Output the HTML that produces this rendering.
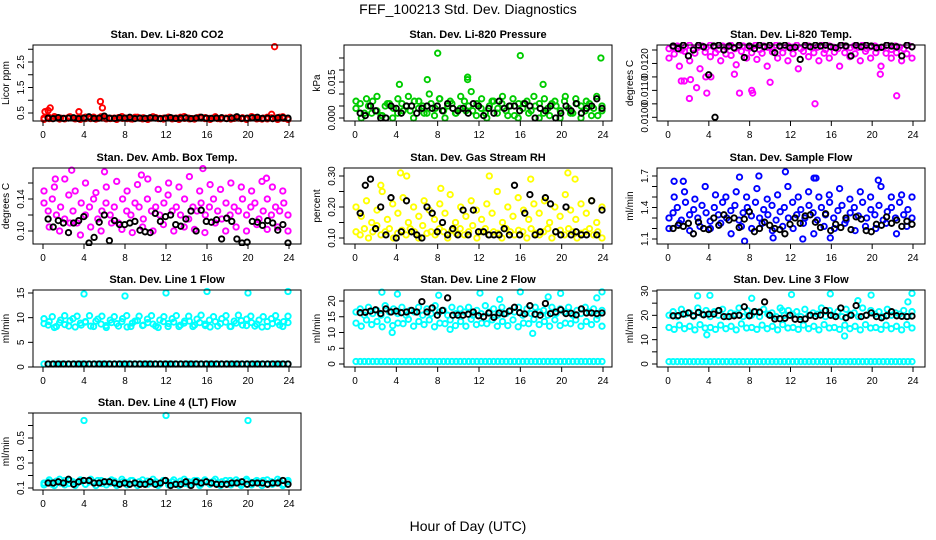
<!DOCTYPE html>
<html><head><meta charset="utf-8"><style>
html,body{margin:0;padding:0;background:#fff;}
svg{display:block;font-family:"Liberation Sans",sans-serif;}
</style></head><body>
<svg id="chart" width="936" height="540" viewBox="0 0 936 540" xmlns="http://www.w3.org/2000/svg">
<text x="468" y="14" font-size="14" text-anchor="middle">FEF_100213  Std. Dev. Diagnostics</text>
<text x="468" y="531" font-size="14" text-anchor="middle">Hour of Day (UTC)</text>
</svg>
<script>
const xTicks=[0,4,8,12,16,20,24];
// Panel 1 CO2
const co2A=[0.3,0.35,0.28,0.32,0.3,0.27,0.33,0.3,0.29,0.31,0.28,0.3,0.34,0.29,0.3,0.31,0.28,0.3,0.32,0.29,0.3,0.27,0.33,0.3,0.31,0.28,0.3,0.32,0.29,0.3,0.31,0.27,0.3,0.33,0.29,0.3,0.28,0.31,0.3,0.32,0.29,0.3,0.28,0.31,0.3,0.33,0.29,0.3,0.31,0.28,0.3,0.32,0.29,0.3,0.27,0.31,0.3,0.33,0.29,0.25];
const co2B=[0.25,0.28,0.36,0.26,0.29,0.35,0.27,0.25,0.34,0.28,0.26,0.35,0.27,0.29,0.25,0.36,0.28,0.26,0.33,0.27,0.25,0.35,0.28,0.26,0.34,0.29,0.25,0.36,0.27,0.26,0.33,0.28,0.25,0.35,0.27,0.29,0.26,0.34,0.28,0.25,0.36,0.27,0.26,0.33,0.28,0.25,0.35,0.27];
const co2OutH=[0.2,0.5,0.7,3.5,5.6,5.8,22.6,22.3];
const co2OutV=[0.55,0.6,0.7,0.55,0.95,0.7,3.1,0.45];
const co2K=[0.3,0.28,0.32,0.29,0.3,0.31,0.28,0.3,0.35,0.29,0.3,0.38,0.3,0.29,0.31,0.3,0.33,0.28,0.3,0.29,0.31,0.3,0.28,0.3,0.32,0.29,0.3,0.31,0.28,0.3,0.33,0.3,0.29,0.3,0.31,0.28,0.3,0.35,0.29,0.3,0.31,0.33,0.29,0.3,0.28,0.31,0.32,0.3];
// Panel 2 Pressure
const prA=[0.004,0.006,0.002,0.005,0.007,0.003,0.001,0.005,0.006,0.004,0.002,0.006,0.005,0.003,0.007,0.004,0.005,0.002,0.006,0.004,0.008,0.003,0.005,0.006,0.002,0.004,0.007,0.005,0.003,0.006,0.004,0.002,0.005,0.007,0.004,0.006,0.003,0.005,0.001,0.006,0.004,0.007,0.003,0.005,0.006,0.002,0.004,0.006,0.005,0.003,0.007,0.004,0.002,0.006,0.005,0.003,0.006,0.004,0.001,0.005];
const prB=[0.007,0.0,0.008,0.002,0.009,0.001,0.006,0.0,0.008,0.003,0.009,0.0,0.007,0.002,0.01,0.001,0.008,0.0,0.007,0.002,0.009,0.003,0.011,0.001,0.008,0.0,0.007,0.002,0.009,0.001,0.008,0.0,0.006,0.002,0.009,0.0,0.008,0.001,0.007,0.0,0.009,0.002,0.008,0.0,0.007,0.001,0.009,0.003];
const prOutH=[8,16,23.8,10.9,10.9,7,4.3,18.2];
const prOutV=[0.027,0.026,0.025,0.017,0.016,0.016,0.014,0.014];
const prK=[0.002,0.001,0.005,0.003,0.0,0.0,0.005,0.004,0.002,0.005,0.005,0.002,0.004,0.005,0.004,0.005,0.003,0.006,0.004,0.003,0.004,0.002,0.006,0.005,0.001,0.004,0.002,0.007,0.004,0.005,0.005,0.003,0.006,0.005,0.0,0.004,0.003,0.005,0.0,0.002,0.005,0.003,0.006,0.002,0.004,0.005,0.008,0.004];
// Panel 3 Li-820 Temp
const tpA=[0.01255,0.0126,0.01265,0.0125,0.01262,0.01268,0.01255,0.0126,0.01265,0.01258,0.01268,0.0126,0.01252,0.01265,0.0126,0.01268,0.01255,0.01262,0.01265,0.01258,0.0126,0.01268,0.01252,0.01265,0.0126,0.01255,0.01268,0.01262,0.01258,0.01265,0.0126,0.01268,0.01255,0.01262,0.01265,0.01258,0.0126,0.01268,0.01252,0.01265,0.0126,0.01255,0.01268,0.01262,0.01258,0.01265,0.0126,0.01268,0.01255,0.01262,0.01265,0.01258,0.0126,0.01268,0.01252,0.01265,0.0126,0.01255,0.01268,0.01262];
const tpB=[0.0122,0.01235,0.0119,0.01245,0.0121,0.01238,0.0118,0.01242,0.01225,0.0124,0.0121,0.01235,0.0123,0.01195,0.01245,0.0122,0.0124,0.01215,0.01238,0.0119,0.01243,0.0122,0.0124,0.0121,0.01236,0.0118,0.01245,0.01225,0.0124,0.0121,0.01238,0.0122,0.01242,0.0119,0.0124,0.01225,0.01236,0.0121,0.01245,0.0122,0.0124,0.0119,0.01238,0.0122,0.0124,0.0121,0.01236,0.0122];
const tpOutH=[1.3,1.6,2.2,2.8,3.7,3.8,4.2,6.5,7,8.2,8.3,10,14.4,20.8,22.4,2.1];
const tpOutV=[0.01135,0.01135,0.0114,0.0111,0.0115,0.0109,0.0115,0.0116,0.0109,0.011,0.0109,0.0113,0.0105,0.0116,0.0108,0.0107];
const tpK=[0.01265,0.01255,0.01268,0.01228,0.0125,0.01268,0.01262,0.01158,0.01265,0.01268,0.0125,0.01265,0.01258,0.01268,0.01222,0.01265,0.01255,0.01268,0.01262,0.01268,0.0124,0.01265,0.01268,0.01258,0.0126,0.01215,0.01268,0.01262,0.01268,0.01265,0.01268,0.01262,0.01258,0.01268,0.01265,0.01228,0.01268,0.01262,0.01268,0.01265,0.01258,0.0126,0.01268,0.01265,0.01262,0.01228,0.01268,0.01262];
const tpOddH=[4.6];
const tpOddV=[0.0100];
// Panel 4 Amb box temp
const abA=[0.135,0.125,0.14,0.12,0.13,0.115,0.145,0.125,0.11,0.135,0.12,0.13,0.14,0.115,0.125,0.135,0.12,0.13,0.11,0.14,0.125,0.12,0.135,0.13,0.115,0.14,0.125,0.13,0.12,0.135,0.145,0.125,0.13,0.12,0.14,0.115,0.13,0.125,0.135,0.12,0.13,0.14,0.125,0.115,0.135,0.12,0.13,0.125,0.14,0.12,0.13,0.135,0.115,0.125,0.14,0.12,0.13,0.125,0.135,0.12];
const abB=[0.15,0.105,0.155,0.1,0.165,0.11,0.15,0.095,0.16,0.105,0.148,0.1,0.155,0.11,0.162,0.102,0.15,0.098,0.158,0.105,0.165,0.1,0.152,0.108,0.16,0.1,0.155,0.105,0.168,0.102,0.15,0.098,0.158,0.11,0.152,0.1,0.16,0.105,0.155,0.1,0.15,0.108,0.162,0.102,0.155,0.105,0.15,0.1];
const abOutH=[2.8,6,15.6,9.6,1.2,21.8];
const abOutV=[0.176,0.174,0.178,0.17,0.165,0.166];
const abK=[0.115,0.105,0.113,0.11,0.098,0.11,0.113,0.118,0.085,0.092,0.111,0.12,0.088,0.113,0.108,0.108,0.11,0.112,0.101,0.099,0.098,0.122,0.112,0.118,0.12,0.108,0.106,0.115,0.125,0.1,0.126,0.112,0.111,0.114,0.09,0.116,0.112,0.09,0.085,0.086,0.112,0.111,0.107,0.113,0.11,0.101,0.108,0.085];
// Panel 5 Gas stream RH
const rhA=[0.12,0.11,0.13,0.1,0.12,0.14,0.11,0.12,0.13,0.1,0.115,0.125,0.11,0.13,0.12,0.1,0.14,0.115,0.12,0.11,0.13,0.12,0.1,0.125,0.115,0.13,0.11,0.12,0.14,0.1,0.12,0.13,0.11,0.12,0.115,0.1,0.13,0.12,0.11,0.125,0.12,0.1,0.13,0.115,0.11,0.12,0.13,0.1,0.12,0.125,0.11,0.13,0.12,0.1,0.115,0.12,0.13,0.11,0.12,0.1];
const rhB=[0.2,0.17,0.22,0.15,0.19,0.25,0.16,0.21,0.18,0.23,0.15,0.2,0.17,0.22,0.19,0.16,0.21,0.18,0.24,0.15,0.2,0.17,0.22,0.19,0.16,0.21,0.18,0.25,0.15,0.2,0.17,0.23,0.19,0.16,0.21,0.18,0.22,0.15,0.2,0.17,0.24,0.19,0.16,0.21,0.18,0.22,0.15,0.2];
const rhOutH=[4.4,5,13,20.6,17,21.3,2.5,8.3];
const rhOutV=[0.31,0.3,0.3,0.31,0.29,0.29,0.27,0.26];
const rhK=[0.18,0.27,0.29,0.13,0.2,0.11,0.23,0.1,0.12,0.22,0.12,0.11,0.1,0.2,0.18,0.12,0.15,0.11,0.13,0.11,0.19,0.11,0.19,0.12,0.12,0.11,0.11,0.11,0.13,0.11,0.27,0.11,0.18,0.24,0.11,0.12,0.23,0.21,0.12,0.11,0.2,0.11,0.12,0.11,0.11,0.22,0.11,0.19];
// Panel 6 Sample flow
const sfA=[1.3,1.35,1.4,1.28,1.45,1.33,1.38,1.3,1.42,1.35,1.27,1.4,1.33,1.45,1.3,1.37,1.42,1.28,1.35,1.4,1.32,1.45,1.3,1.38,1.33,1.42,1.28,1.36,1.4,1.3,1.45,1.33,1.38,1.3,1.42,1.35,1.28,1.4,1.33,1.45,1.3,1.37,1.42,1.28,1.35,1.4,1.32,1.45,1.3,1.38,1.33,1.42,1.28,1.36,1.4,1.3,1.45,1.33,1.38,1.3];
const sfB=[1.2,1.5,1.25,1.55,1.18,1.48,1.22,1.6,1.2,1.52,1.25,1.5,1.15,1.55,1.22,1.5,1.2,1.58,1.25,1.48,1.18,1.52,1.22,1.6,1.2,1.5,1.25,1.55,1.15,1.5,1.22,1.52,1.2,1.58,1.25,1.48,1.18,1.55,1.22,1.5,1.2,1.6,1.25,1.5,1.15,1.52,1.22,1.5];
const sfOutH=[0.6,1.5,7,8.9,11.5,14.5,14.3,20.6,7.5,13.2,15.9,10.3];
const sfOutV=[1.65,1.65,1.69,1.7,1.74,1.68,1.68,1.66,1.08,1.1,1.11,1.11];
const sfK=[1.2,1.23,1.22,1.25,1.15,1.26,1.2,1.19,1.3,1.23,1.33,1.28,1.3,1.21,1.29,1.36,1.17,1.2,1.26,1.23,1.2,1.19,1.15,1.24,1.3,1.25,1.32,1.33,1.26,1.21,1.34,1.18,1.24,1.21,1.3,1.19,1.31,1.29,1.18,1.17,1.24,1.23,1.31,1.25,1.28,1.22,1.27,1.24];
// Panel 7 Line 1 flow
const l1A=[9.8,8.5,10.2,8.2,9.5,10.4,8.3,9.8,10.3,8.5,9.2,10.4,8.2,9.7,10.3,8.4,9.5,10.2,8.3,9.8,10.4,8.2,9.3,10.3,8.5,9.7,10.4,8.3,9.5,10.2,8.2,9.8,10.4,8.5,9.3,10.3,8.2,9.7,10.5,8.4,9.5,10.2,8.3,9.8,10.4,8.2,9.3,10.5,8.5,9.7,10.3,8.3,9.5,10.2,8.2,9.8,10.4,8.5,9.2,10.3];
const l1B=[8.8,9.2,8.0,9.0,8.6,9.4,8.1,8.9,9.1,8.3,9.3,8.7,8.0,9.0,8.8,9.2,8.1,8.9,9.4,8.4,9.0,8.7,8.0,9.2,8.8,9.1,8.2,8.9,9.3,8.5,9.0,8.7,8.1,9.2,8.8,9.1,8.2,8.9,9.4,8.4,9.0,8.7,8.1,9.2,8.8,9.1,8.2,9.0];
const l1Z=[0.6,0.6,0.6,0.6,0.6,0.6,0.6,0.6,0.6,0.6,0.6,0.6,0.6,0.6,0.6,0.6,0.6,0.6,0.6,0.6,0.6,0.6,0.6,0.6,0.6,0.6,0.6,0.6,0.6,0.6,0.6,0.6,0.6,0.6,0.6,0.6,0.6,0.6,0.6,0.6,0.6,0.6,0.6,0.6,0.6,0.6,0.6,0.6,0.6,0.6,0.6,0.6,0.6,0.6,0.6,0.6,0.6,0.6,0.6,0.6];
const l1OutH=[4,8,12,16,20,23.9];
const l1OutV=[14.8,14.4,15.0,15.3,15.0,15.3];
const l1K=[0.6,0.6,0.6,0.6,0.6,0.6,0.6,0.6,0.6,0.6,0.6,0.6,0.6,0.6,0.6,0.6,0.6,0.6,0.6,0.6,0.6,0.6,0.6,0.6,0.6,0.6,0.6,0.6,0.6,0.6,0.6,0.6,0.6,0.6,0.6,0.6,0.6,0.6,0.6,0.6,0.6,0.6,0.6,0.6,0.6,0.6,0.6,0.6];
// Panel 8 Line 2 flow
const l2A=[16.5,17.5,15.5,18,16,17,15.5,18.5,16.5,17.5,16,18,15.5,17,16.5,18,15.5,17.5,16,18.5,16.5,17,15.5,18,16,17.5,16.5,18,15.5,17,16,18.5,16.5,17.5,15.5,18,16,17,16.5,18,15.5,17.5,16,18,16.5,17,15.5,18,16,17.5,16.5,18,15.5,17,16,18,16.5,17.5,15.5,17];
const l2B=[13,12,14,12.5,13.5,11.8,14,12.2,13,12.8,14.2,12,13.5,12.5,14,11.8,13,12.8,14,12.2,13.5,12,14.2,12.5,13,12.8,14,12,13.5,12.2,14,11.8,13,12.8,14.2,12.5,13.5,12,14,12.2,13,12.8,14,12,13.5,12.5,14.2,12];
const l2Z=[0.8,0.8,0.8,0.8,0.8,0.8,0.8,0.8,0.8,0.8,0.8,0.8,0.8,0.8,0.8,0.8,0.8,0.8,0.8,0.8,0.8,0.8,0.8,0.8,0.8,0.8,0.8,0.8,0.8,0.8,0.8,0.8,0.8,0.8,0.8,0.8,0.8,0.8,0.8,0.8,0.8,0.8,0.8,0.8,0.8,0.8,0.8,0.8,0.8,0.8,0.8,0.8,0.8,0.8,0.8,0.8,0.8,0.8,0.8,0.8];
const l2OutH=[2.6,4.1,8.1,12.1,16.0,19.9,23.9,23.4,3.6,17.2,18.7,9.2,14.0];
const l2OutV=[22.8,22.2,21.8,22.5,22.9,22.4,22.9,21.0,10.0,9.7,21.3,11.0,20.5];
const l2K=[16.3,16.4,16.8,17.2,16.0,17.5,16.5,16.8,16.3,16.5,17.0,16.5,19.8,16.5,17.8,15.5,17.0,21.0,15.5,15.5,15.5,15.8,16.5,15.3,15.0,16.2,14.8,16.2,15.9,16.8,18.0,16.3,15.9,18.5,15.8,15.5,19.2,16.0,16.5,17.2,16.0,16.1,15.6,17.5,16.2,16.2,16.0,16.2];
// Panel 9 Line 3 flow
const l3A=[20,21.5,19.5,22.5,20.5,21,19.5,23,20.5,22,19.5,21.5,20,22.5,19.5,21,20.5,23,19.5,22,20,21.5,19.5,22.5,20.5,21,19.5,23,20,22,20.5,21.5,19.5,22.5,20,21,20.5,23,19.5,22,20,21.5,19.5,22.5,20.5,21,19.5,23,20,22,20.5,21.5,19.5,22.5,20,21,20.5,22,19.5,21.5];
const l3B=[15,14.2,16,14.5,15.5,14,16.2,14.8,15,14.2,16,14.5,15.5,14,16.5,14.8,15,14.2,16,14.5,15.5,14,16.2,14.8,15,14.2,16,14.5,15.5,14,16.2,14.8,15,14.2,16,14.5,15.5,14,16.2,14.8,15,14.2,16,14.5,15.5,14,16.2,14.8];
const l3Z=[1,1,1,1,1,1,1,1,1,1,1,1,1,1,1,1,1,1,1,1,1,1,1,1,1,1,1,1,1,1,1,1,1,1,1,1,1,1,1,1,1,1,1,1,1,1,1,1,1,1,1,1,1,1,1,1,1,1,1,1];
const l3OutH=[2.9,4.1,8.2,12.1,15.9,19.9,23.9,23.5,18.6,3.8,17.3,11.2];
const l3OutV=[28.0,28.2,27.0,28.5,28.8,28.3,29.0,25.5,26.0,12.0,11.5,22.0];
const l3K=[19.8,19.9,20.5,21.0,19.8,21.2,20.2,20.5,20.5,22.0,19.5,19.5,19.8,20.0,23.5,19.8,21.5,21.3,25.5,20.0,18.5,18.6,18.8,20.0,18.4,18.3,18.5,20.0,19.6,20.1,22.0,20.0,19.5,23.0,19.0,20.0,24.0,19.5,20.0,21.0,19.5,19.0,19.8,21.5,19.8,19.6,19.5,19.7];
// Panel 10 Line 4 (LT) flow
const l4A=[0.14,0.15,0.13,0.155,0.14,0.16,0.135,0.15,0.14,0.155,0.13,0.15,0.145,0.16,0.135,0.15,0.14,0.155,0.13,0.15,0.145,0.16,0.14,0.15,0.135,0.155,0.14,0.15,0.13,0.16,0.145,0.15,0.14,0.155,0.135,0.15,0.14,0.16,0.13,0.15,0.145,0.155,0.14,0.15,0.135,0.16,0.14,0.15,0.13,0.155,0.145,0.15,0.14,0.16,0.135,0.15,0.14,0.155,0.13,0.15];
const l4B=[0.125,0.165,0.12,0.17,0.125,0.16,0.12,0.165,0.13,0.17,0.12,0.16,0.125,0.165,0.12,0.17,0.125,0.16,0.12,0.165,0.13,0.17,0.12,0.16,0.125,0.165,0.12,0.17,0.125,0.16,0.12,0.165,0.13,0.17,0.12,0.16,0.125,0.165,0.12,0.17,0.125,0.16,0.12,0.165,0.13,0.17,0.12,0.16];
const l4OutH=[4,12,20];
const l4OutV=[0.64,0.68,0.64];
const l4K=[0.14,0.14,0.15,0.14,0.17,0.13,0.15,0.16,0.16,0.14,0.14,0.15,0.15,0.14,0.13,0.14,0.13,0.14,0.13,0.13,0.15,0.13,0.14,0.16,0.12,0.13,0.13,0.15,0.12,0.15,0.14,0.15,0.14,0.13,0.13,0.13,0.14,0.14,0.15,0.13,0.14,0.14,0.14,0.13,0.14,0.14,0.16,0.13];

const NS="http://www.w3.org/2000/svg";
const svg=document.getElementById('chart');
function mk(tag,parent){const e=document.createElementNS(NS,tag);parent.appendChild(e);return e;}

const cols=[{b0:33,b1:301,h0:43,h24:289},{b0:344,b1:612,h0:355,h24:603},{b0:657,b1:925,h0:668,h24:913}];
const rows=[{t:45,b:121},{t:168,b:244},{t:290,b:367},{t:413,b:490}];

const panels=[
 {name:'co2',title:'Stan. Dev. Li-820 CO2',ylab:'Licor ppm',c:0,r:0,v1:0.5,p1:113,v2:2.5,p2:62,ticks:[0.5,1,1.5,2,2.5,3],labels:['0.5','','1.5','','2.5',''],color:'#ff0000',
  series:[co2B,co2A],outH:co2OutH,outV:co2OutV,black:co2K},
 {name:'pressure',title:'Stan. Dev. Li-820 Pressure',ylab:'kPa',c:1,r:0,v1:0,p1:118,v2:0.015,p2:82,ticks:[0,0.005,0.01,0.015,0.02,0.025],labels:['0.000','','','0.015','',''],color:'#00cc00',
  series:[prB,prA],outH:prOutH,outV:prOutV,black:prK},
 {name:'li820-temp',title:'Stan. Dev. Li-820 Temp.',ylab:'degrees C',c:2,r:0,v1:0.0100,p1:117.3,v2:0.0125,p2:50,ticks:[0.0100,0.0105,0.0110,0.0115,0.0120,0.0125],labels:['0.0100','','0.0110','','0.0120',''],color:'#ff00ff',
  series:[tpB,tpA],outH:tpOutH,outV:tpOutV,black:tpK,oddH:tpOddH,oddV:tpOddV},
 {name:'amb-box-temp',title:'Stan. Dev. Amb. Box Temp.',ylab:'degrees C',c:0,r:1,v1:0.10,p1:231,v2:0.14,p2:199,ticks:[0.10,0.12,0.14,0.16],labels:['0.10','','0.14',''],color:'#ff00ff',
  series:[abB,abA],outH:abOutH,outV:abOutV,black:abK},
 {name:'gas-stream-rh',title:'Stan. Dev. Gas Stream RH',ylab:'percent',c:1,r:1,v1:0.10,p1:238,v2:0.30,p2:176,ticks:[0.10,0.15,0.20,0.25,0.30],labels:['0.10','','0.20','','0.30'],color:'#ffff00',
  series:[rhB,rhA],outH:rhOutH,outV:rhOutV,black:rhK},
 {name:'sample-flow',title:'Stan. Dev. Sample Flow',ylab:'ml/min',c:2,r:1,v1:1.1,p1:239,v2:1.7,p2:176,ticks:[1.1,1.2,1.3,1.4,1.5,1.6,1.7],labels:['1.1','','','1.4','','','1.7'],color:'#0000ff',
  series:[sfB,sfA],outH:sfOutH,outV:sfOutV,black:sfK},
 {name:'line1-flow',title:'Stan. Dev. Line 1 Flow',ylab:'ml/min',c:0,r:2,v1:0,p1:367,v2:15,p2:293,ticks:[0,5,10,15],labels:['0','5','10','15'],color:'#00ffff',
  series:[l1Z,l1B,l1A],outH:l1OutH,outV:l1OutV,black:l1K},
 {name:'line2-flow',title:'Stan. Dev. Line 2 Flow',ylab:'ml/min',c:1,r:2,v1:0,p1:364,v2:20,p2:301,ticks:[0,5,10,15,20],labels:['0','5','10','15','20'],color:'#00ffff',
  series:[l2Z,l2B,l2A],outH:l2OutH,outV:l2OutV,black:l2K},
 {name:'line3-flow',title:'Stan. Dev. Line 3 Flow',ylab:'ml/min',c:2,r:2,v1:0,p1:364,v2:30,p2:291,ticks:[0,5,10,15,20,25,30],labels:['0','','10','','20','','30'],color:'#00ffff',
  series:[l3Z,l3B,l3A],outH:l3OutH,outV:l3OutV,black:l3K},
 {name:'line4-flow',title:'Stan. Dev. Line 4 (LT) Flow',ylab:'ml/min',c:0,r:3,v1:0.1,p1:488,v2:0.5,p2:438,ticks:[0.1,0.2,0.3,0.4,0.5,0.6,0.7],labels:['0.1','','0.3','','0.5','',''],color:'#00ffff',
  series:[l4B,l4A],outH:l4OutH,outV:l4OutV,black:l4K}
];

panels.forEach((p,pi)=>{
  const C=cols[p.c],R=rows[p.r];
  const xs=h=>C.h0+(C.h24-C.h0)*h/24;
  const ys=v=>p.p1+(v-p.v1)*(p.p2-p.p1)/(p.v2-p.v1);
  const g=mk('g',svg);
  
  
  const clip=mk('clipPath',g);clip.setAttribute('id','clip'+pi);
  const cr=mk('rect',clip);cr.setAttribute('x',C.b0-2);cr.setAttribute('y',R.t-3);cr.setAttribute('width',C.b1-C.b0+4);cr.setAttribute('height',R.b-R.t+5);
  const t=mk('text',g);
  
  
  t.setAttribute('x',(C.b0+C.b1)/2);t.setAttribute('y',R.t-7);t.setAttribute('font-size','11');t.setAttribute('font-weight','bold');t.setAttribute('text-anchor','middle');
  t.textContent=p.title;
  const pts=mk('g',g);pts.setAttribute('clip-path','url(#clip'+pi+')');
  
  
  function dot(h,v,col){const c=mk('circle',pts);c.setAttribute('cx',xs(h).toFixed(1));c.setAttribute('cy',ys(v).toFixed(1));c.setAttribute('r','2.7');c.setAttribute('fill','none');c.setAttribute('stroke',col);c.setAttribute('stroke-width','1.9');
    
    }
  p.series.forEach(arr=>{const n=arr.length;arr.forEach((v,i)=>dot(0.1+23.8*i/(n-1),v,p.color));});
  p.outH.forEach((h,i)=>dot(h,p.outV[i],p.color));
  const nk=p.black.length;
  p.black.forEach((v,i)=>dot(0.5+23.4*i/(nk-1),v,'#000'));
  if(p.oddH)p.oddH.forEach((h,i)=>dot(h,p.oddV[i],'#000'));
  const box=mk('rect',g);
  
  
  box.setAttribute('x',C.b0);box.setAttribute('y',R.t);box.setAttribute('width',C.b1-C.b0);box.setAttribute('height',R.b-R.t);box.setAttribute('fill','none');box.setAttribute('stroke','#000');
  const xa=mk('g',g);
  
  
  xTicks.forEach(h=>{const l=mk('line',xa);l.setAttribute('x1',xs(h));l.setAttribute('x2',xs(h));l.setAttribute('y1',R.b);l.setAttribute('y2',R.b+5);l.setAttribute('stroke','#000');
    const tx=mk('text',xa);tx.setAttribute('x',xs(h));tx.setAttribute('y',R.b+17);tx.setAttribute('font-size','10');tx.setAttribute('text-anchor','middle');tx.textContent=h;});
  const ya=mk('g',g);
  
  
  p.ticks.forEach((v,i)=>{const y=ys(v);const l=mk('line',ya);l.setAttribute('x1',C.b0);l.setAttribute('x2',C.b0-5);l.setAttribute('y1',y);l.setAttribute('y2',y);l.setAttribute('stroke','#000');
    if(p.labels[i]){const tx=mk('text',ya);tx.setAttribute('font-size','10');tx.setAttribute('text-anchor','middle');tx.setAttribute('transform','translate('+(C.b0-9)+','+y+') rotate(-90)');tx.textContent=p.labels[i];}});
  const yl=mk('text',g);
  
  
  yl.setAttribute('font-size','10');yl.setAttribute('text-anchor','middle');
  yl.setAttribute('transform','translate('+(C.b0-24)+','+((R.t+R.b)/2)+') rotate(-90)');yl.textContent=p.ylab;
});
</script>
</body></html>
